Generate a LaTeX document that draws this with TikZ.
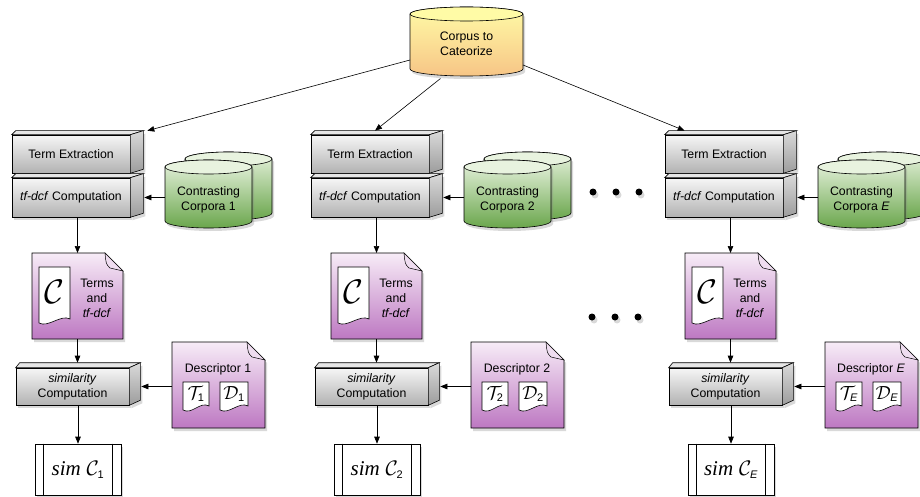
\documentclass[tikz,border=0pt]{standalone}
\usepackage{fix-cm}
\usepackage{fontspec}
\setmainfont{Liberation Sans}
\newfontfamily\timesf{Liberation Serif}
\usetikzlibrary{arrows.meta,shadows}
\definecolor{gtop}{HTML}{F6F6F6}
\definecolor{gbot}{HTML}{B2B2B2}
\definecolor{gface}{HTML}{E6E6E6}
\definecolor{rtop}{HTML}{DADADA}
\definecolor{rbot}{HTML}{9C9C9C}
\definecolor{ptop}{HTML}{F7ECF7}
\definecolor{pbot}{HTML}{BD78C2}
\definecolor{pflap}{HTML}{EFDDF0}
\definecolor{ctop}{HTML}{E8F3DF}
\definecolor{cbot}{HTML}{6AA64C}
\definecolor{ylt}{HTML}{FFFBA6}
\definecolor{ylb}{HTML}{F7C586}
\newcommand\txt{\fontsize{12.3}{15}\selectfont}
\newcommand\subsz{\fontsize{11}{11}\selectfont}
% top and right faces of a 3D box whose front face is node #1
\newcommand\boxfaces[3]{%
 \path[draw,line width=.6pt,fill=gface] (#1.north west) -- ([xshift=4pt,yshift=#3]#1.north west) -- ([xshift=#2,yshift=#3]#1.north east) -- (#1.north east) -- cycle;
 \path[draw,line width=.6pt,top color=rtop,bottom color=rbot,shad] (#1.north east) -- ([xshift=#2,yshift=#3]#1.north east) -- ([xshift=#2,yshift=#3]#1.south east) -- (#1.south east) -- cycle;}
% document with dog-ear on region node #1
\newcommand\docpaint[1]{%
 \path[draw,line width=.6pt,top color=ptop,bottom color=pbot,shad] (#1.north west) -- ([xshift=-18pt]#1.north east) -- ([yshift=-18pt]#1.north east) -- (#1.south east) -- (#1.south west) -- cycle;
 \path[draw,line width=.5pt,fill=pflap] ([xshift=-18pt]#1.north east) .. controls ([xshift=-17pt,yshift=-11pt]#1.north east) .. ([xshift=-13pt,yshift=-15pt]#1.north east) -- ([yshift=-18pt]#1.north east) -- cycle;}
% small document with wavy bottom on region node #1
\newcommand\wavydoc[1]{%
 \path[draw,line width=.6pt,fill=white] (#1.north west) -- (#1.north east) -- ([yshift=4pt]#1.south east) .. controls ([xshift=-9pt,yshift=9pt]#1.south east) and ([xshift=9pt,yshift=-5pt]#1.south west) .. (#1.south west) -- cycle;}
% cylinder: x0, x1, y top centre, y bottom centre, rx, ry, body style, top fill
\newcommand\cyl[8]{%
 \path[draw,line width=.6pt,#7,shad] (#1,#3) -- (#1,#4) arc[start angle=180,end angle=360,x radius=#5pt,y radius=#6pt] -- (#2,#3) arc[start angle=0,end angle=180,x radius=#5pt,y radius=#6pt] -- cycle;
 \path[draw,line width=.6pt,fill=#8] ({(#1+#2)/2},#3) ellipse[x radius=#5pt,y radius=#6pt];}
\begin{document}
\begin{tikzpicture}[x=1pt,y=-1pt,
 arr/.style={-{Triangle[length=7pt,width=5.5pt]},line width=.6pt},
 shad/.style={drop shadow={opacity=.3,shadow xshift=2pt,shadow yshift=-3pt}},
 front/.style={draw,line width=.6pt,top color=gtop,bottom color=gbot,shad,inner sep=0,align=center,font=\txt},
 region/.style={inner sep=0,outer sep=0,draw=none},
 dot/.style={circle,fill=black,inner sep=0,minimum size=7pt,shad}]
\useasboundingbox (0,0) rectangle (920,497);

\cyl{410}{523}{14}{69}{56.5}{7}{top color=ylt,bottom color=ylb}{ylt}
\node[region,minimum width=113pt,minimum height=55pt,align=center,font=\txt] (corp) at (466.5,44) {Corpus to\\Cateorize};

\foreach \c/\o/\lab in {1/0/1,2/299/2,3/653/\textit{E}}{
 \node[front,minimum width=118pt,minimum height=38pt] (te\c) at ({71+\o},154) {Term Extraction};
 \boxfaces{te\c}{13pt}{4pt}
 \node[front,minimum width=118pt,minimum height=39pt] (tf\c) at ({71+\o},197.5) {\textit{tf-dcf} Computation};
 \boxfaces{tf\c}{13pt}{4pt}
 \cyl{185+\o}{272+\o}{159}{213}{43.5}{7}{top color=ctop,bottom color=cbot}{ctop}
 \cyl{165+\o}{252+\o}{167}{221}{43.5}{7}{top color=ctop,bottom color=cbot}{ctop}
 \node[region,minimum width=87pt,align=center,font=\txt] (cc\c) at ({208.5+\o},200) {Contrasting\\Corpora \lab};
 \node[region,minimum width=91pt,minimum height=86pt] (doc\c) at ({77.5+\o},296) {};
 \docpaint{doc\c}
 \node[region,minimum width=31pt,minimum height=56pt] (ic\c) at ({54.5+\o},295) {};
 \wavydoc{ic\c}
 \node[font=\fontsize{34}{34}\selectfont] (icC\c) at ([yshift=3pt]ic\c.center) {$\mathcal{C}$};
 \node[align=center,font=\txt] (tt\c) at ({97+\o},298) {Terms\\and\\\textit{tf-dcf}};
 \node[region,minimum width=93pt,minimum height=86pt] (desc\c) at ({218.5+\o},385) {};
 \docpaint{desc\c}
 \node[font=\txt] (dl\c) at ({218+\o},369) {Descriptor \lab};
 \node[region,minimum width=26pt,minimum height=28pt] (ti\c) at ({196+\o},396) {};
 \wavydoc{ti\c}
 \node[font=\fontsize{19}{19}\selectfont] (tg\c) at ([yshift=2pt]ti\c.center) {$\mathcal{T}_{\mbox{\subsz\lab}}$};
 \node[region,minimum width=28pt,minimum height=28pt] (di\c) at ({234+\o},396) {};
 \wavydoc{di\c}
 \node[font=\fontsize{19}{19}\selectfont] (dg\c) at ([yshift=2pt]di\c.center) {$\mathcal{D}_{\mbox{\subsz\lab}}$};
 \node[front,minimum width=113pt,minimum height=37pt] (sim\c) at ({72.5+\o},386.5) {\textit{similarity}\\Computation};
 \boxfaces{sim\c}{11pt}{5pt}
 \coordinate (st\c) at ([yshift=5pt]sim\c.north);
 \node[draw,line width=.6pt,fill=white,shad,minimum width=86pt,minimum height=51pt,inner sep=0] (res\c) at ({78+\o},469.5) {\fontsize{21}{21}\selectfont{\timesf\itshape sim} $\mathcal{C}_{\mbox{\subsz\lab}}$};
 \draw[line width=.6pt] ([xshift=9pt]res\c.north west) -- ([xshift=9pt]res\c.south west);
 \draw[line width=.6pt] ([xshift=-9pt]res\c.north east) -- ([xshift=-9pt]res\c.south east);
 \draw[arr] (cc\c.west |- tf\c) -- ([xshift=14pt]tf\c.east);
 \draw[arr] (tf\c.south -| doc\c) -- (doc\c.north);
 \draw[arr] (doc\c.south) -- (st\c -| doc\c);
 \draw[arr] (sim\c.south -| res\c) -- (res\c.north);
 \draw[arr] (desc\c.west |- sim\c) -- ([xshift=12pt]sim\c.east);
}

\draw[arr] ([yshift=-16pt]corp.west) -- ([xshift=17pt,yshift=4pt]te1.north east);
\draw[arr] ([xshift=-26pt,yshift=-7pt]corp.south) -- ([xshift=5pt,yshift=4pt]te2.north);
\draw[arr] ([yshift=-21pt]corp.east) -- ([xshift=20pt,yshift=4pt]te3.north west);

\node[dot] (da1) at (593,192) {};
\node[dot] (da2) at (616,192) {};
\node[dot] (da3) at (639,192) {};
\node[dot] (db1) at (592,317) {};
\node[dot] (db2) at (615,317) {};
\node[dot] (db3) at (638,317) {};
\end{tikzpicture}
\end{document}
